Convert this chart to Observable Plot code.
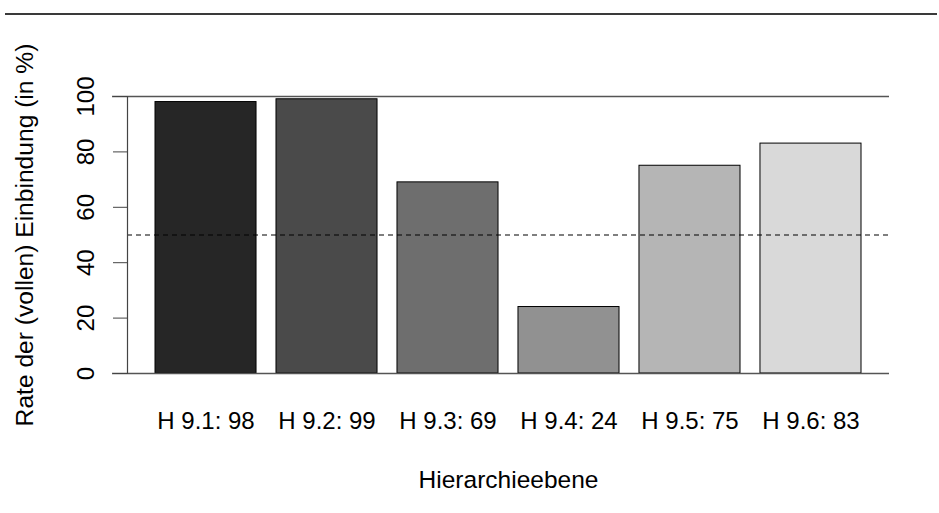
<!DOCTYPE html>
<html>
<head>
<meta charset="utf-8">
<script src="https://cdn.jsdelivr.net/npm/d3@7"></script>
<script src="https://cdn.jsdelivr.net/npm/@observablehq/plot@0.6"></script>
<style>
  html, body { margin: 0; padding: 0; background: #fff; }
  #wrap { position: relative; width: 939px; height: 513px; }
  #topline { position: absolute; left: 5px; top: 13px; width: 932px; height: 2px; background: #3a3a3a; }
</style>
</head>
<body>
<div id="wrap"><div id="topline"></div></div>
<script>
const categories = ["H 9.1", "H 9.2", "H 9.3", "H 9.4", "H 9.5", "H 9.6"];
const values = [98, 99, 69, 24, 75, 83];
const greys = ["#262626", "#4a4a4a", "#6e6e6e", "#919191", "#b5b5b5", "#d9d9d9"];
const yTicks = [0, 20, 40, 60, 80, 100];
const refLines = [0, 100];
const threshold = [50];
const yTitle = "Rate der (vollen) Einbindung (in %)";
const xTitle = "Hierarchieebene";

const data = categories.map((c, i) => ({cat: c, value: values[i]}));
const labelOf = new Map(data.map(d => [d.cat, `${d.cat}: ${d.value}`]));

const chart = Plot.plot({
  width: 939,
  height: 513,
  marginTop: 96,
  marginBottom: 140,
  marginLeft: 127,
  marginRight: 50,
  style: {fontFamily: "'Liberation Sans', Arial, Helvetica, sans-serif", fontSize: "24px", color: "#000", background: "transparent"},
  x: {domain: categories, range: [155, 861], paddingInner: 0.165, paddingOuter: 0, round: false},
  y: {domain: [0, 100], range: [373, 96]},
  color: {domain: categories, range: greys},
  marks: [
    Plot.barY(data, {x: "cat", y: "value", fill: "cat", stroke: "#000", strokeWidth: 1}),
    Plot.ruleY(refLines, {insetLeft: -15, stroke: "#555", strokeWidth: 1.3}),
    Plot.ruleY(threshold, {stroke: "#000", strokeWidth: 1.2, strokeDasharray: "5,4"}),
    Plot.frame({anchor: "left", stroke: "#444", strokeWidth: 1.2}),
    Plot.axisY({ticks: yTicks, tickSize: 14, tickPadding: 20, tickRotate: -90, label: null, stroke: "#444", fontSize: 24}),
    Plot.axisX({tickSize: 0, tickPadding: 38, label: null, tickFormat: d => labelOf.get(d), fontSize: 24}),
    Plot.text([xTitle], {frameAnchor: "bottom", dy: 114, lineAnchor: "bottom", fontSize: 24.5}),
    Plot.text([yTitle], {frameAnchor: "left", dx: -95, rotate: -90, lineAnchor: "bottom", textAnchor: "middle", fontSize: 24.6})
  ]
});
chart.style.position = "absolute";
chart.style.left = "0";
chart.style.top = "0";
document.getElementById("wrap").appendChild(chart);
</script>
</body>
</html>
